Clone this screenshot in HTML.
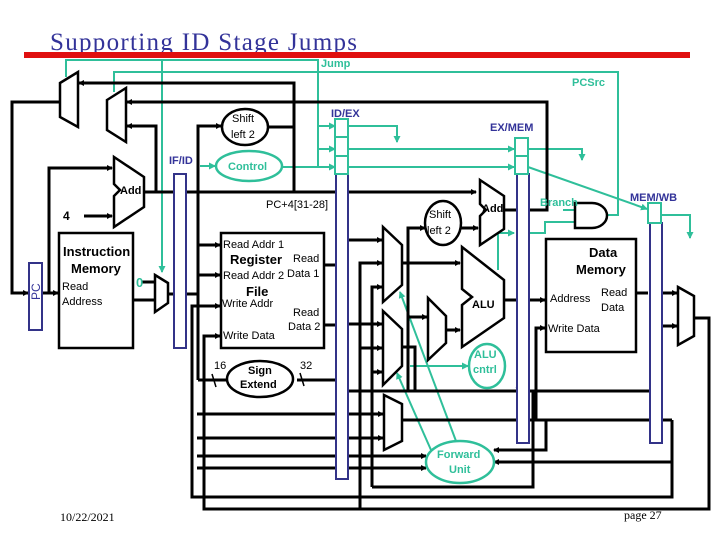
<!DOCTYPE html>
<html><head><meta charset="utf-8"><style>
html,body{margin:0;padding:0;background:#fff;}
svg{display:block;}
text{font-family:"Liberation Sans",sans-serif;}
</style></head><body>
<svg width="720" height="540" viewBox="0 0 720 540" xmlns="http://www.w3.org/2000/svg">
<defs>
<marker id="a" markerWidth="6" markerHeight="6" refX="5" refY="3" orient="auto" markerUnits="userSpaceOnUse"><path d="M0,0 L6,3 L0,6 z" fill="#000"/></marker>
<marker id="t" markerWidth="7" markerHeight="7" refX="6" refY="3.5" orient="auto" markerUnits="userSpaceOnUse"><path d="M0,0 L7,3.5 L0,7 z" fill="#2fbf9a"/></marker>
</defs>
<rect width="720" height="540" fill="#fff"/>
<text x="50" y="50" font-size="25" fill="#333399" textLength="307" style="font-family:'Liberation Serif',serif">Supporting ID Stage Jumps</text>
<rect x="24" y="52" width="666" height="6" fill="#e01010"/>

<g stroke="#2fbf9a" stroke-width="2" fill="none">
<polyline points="66,77 66,60 318,60 318,167"/>
<line x1="162" y1="60" x2="162" y2="272" marker-end="url(#t)"/>
<polyline points="114,92 114,72 618,72 618,215 607,215"/>
<line x1="318" y1="126" x2="335" y2="126" marker-end="url(#t)"/>
<line x1="318" y1="149" x2="335" y2="149" marker-end="url(#t)"/>
<line x1="282" y1="167" x2="335" y2="167" marker-end="url(#t)"/>
<line x1="200" y1="166" x2="215" y2="166" marker-end="url(#t)"/>
<polyline points="348,126 397,126 397,142" marker-end="url(#t)"/>
<line x1="348" y1="149" x2="514" y2="149" marker-end="url(#t)"/>
<line x1="348" y1="167" x2="514" y2="167" marker-end="url(#t)"/>
<polyline points="528,149 582,149 582,160" marker-end="url(#t)"/>
<line x1="528" y1="167" x2="647" y2="209" marker-end="url(#t)"/>
<polyline points="661,215 690,215 690,238" marker-end="url(#t)"/>
<polyline points="498,270 498,233 514,233" marker-end="url(#t)"/>
<polyline points="528,233 545,233 545,222 576,222"/>
<line x1="563" y1="210" x2="576" y2="210"/>
<line x1="410" y1="366" x2="468" y2="366" marker-end="url(#t)"/>
<line x1="456" y1="441" x2="400" y2="292" marker-end="url(#t)"/>
<line x1="431" y1="450" x2="397" y2="373" marker-end="url(#t)"/>
</g>

<g stroke="#000" stroke-width="3" fill="none">
<polyline points="294,192 294,83 79,83" marker-end="url(#a)"/>
<polyline points="530,210 547,210 547,102 127,102" marker-end="url(#a)"/>
<polyline points="156,192 156,126 127,126" marker-end="url(#a)"/>
<line x1="144" y1="192" x2="476" y2="192" marker-end="url(#a)"/>
<polyline points="60,102 12,102 12,293 28,293" marker-end="url(#a)"/>
<line x1="42" y1="293" x2="58" y2="293" marker-end="url(#a)"/>
<polyline points="49,293 49,168 112,168" marker-end="url(#a)"/>
<line x1="84" y1="216" x2="112" y2="216" marker-end="url(#a)"/>
<line x1="133" y1="300" x2="155" y2="300"/>
<line x1="142" y1="282" x2="155" y2="282"/>
<line x1="168" y1="294" x2="173" y2="294"/>
<line x1="186" y1="294" x2="198" y2="294"/>
<polyline points="198,380 198,126 221,126" marker-end="url(#a)"/>
<line x1="268" y1="127" x2="294" y2="127"/>
<line x1="198" y1="245" x2="220" y2="245" marker-end="url(#a)"/>
<line x1="198" y1="275" x2="220" y2="275" marker-end="url(#a)"/>
<line x1="324" y1="265" x2="336" y2="265"/>
<line x1="324" y1="325" x2="336" y2="325"/>
<line x1="348" y1="240" x2="382" y2="240" marker-end="url(#a)"/>
<line x1="348" y1="324" x2="382" y2="324" marker-end="url(#a)"/>
<polyline points="360,420 360,263 382,263" marker-end="url(#a)"/>
<polyline points="372,487 372,287 382,287" marker-end="url(#a)"/>
<line x1="360" y1="348" x2="382" y2="348" marker-end="url(#a)"/>
<line x1="372" y1="372" x2="382" y2="372" marker-end="url(#a)"/>
<line x1="402" y1="263" x2="460" y2="263" marker-end="url(#a)"/>
<polyline points="402,347 415,347 415,391"/>
<polyline points="408,390 408,228 425,228" marker-end="url(#a)"/>
<line x1="408" y1="317" x2="427" y2="317" marker-end="url(#a)"/>
<line x1="446" y1="330" x2="460" y2="330" marker-end="url(#a)"/>
<line x1="461" y1="228" x2="478" y2="228" marker-end="url(#a)"/>
<line x1="504" y1="210" x2="516" y2="210"/>
<line x1="504" y1="300" x2="516" y2="300"/>
<line x1="528" y1="300" x2="545" y2="300" marker-end="url(#a)"/>
<polyline points="536,420 536,328 545,328" marker-end="url(#a)"/>
<line x1="636" y1="293" x2="648" y2="293"/>
<line x1="661" y1="293" x2="677" y2="293" marker-end="url(#a)"/>
<line x1="661" y1="326" x2="677" y2="326" marker-end="url(#a)"/>
<polyline points="694,318 709,318 709,509 204,509 204,336 220,336" marker-end="url(#a)"/>
<line x1="360" y1="509" x2="360" y2="420"/>
<polyline points="672,420 672,497 192,497 192,306 220,306" marker-end="url(#a)"/>
<line x1="297" y1="380" x2="336" y2="380"/>
<line x1="198" y1="380" x2="228" y2="380"/>
<line x1="348" y1="391" x2="650" y2="391"/>
<line x1="402" y1="420" x2="672" y2="420"/>
<line x1="197" y1="414" x2="383" y2="414" marker-end="url(#a)"/>
<line x1="197" y1="438" x2="383" y2="438" marker-end="url(#a)"/>
<line x1="197" y1="456" x2="426" y2="456" marker-end="url(#a)"/>
<line x1="197" y1="468" x2="426" y2="468" marker-end="url(#a)"/>
<polyline points="546,420 546,450 494,450" marker-end="url(#a)"/>
<line x1="672" y1="462" x2="494" y2="462" marker-end="url(#a)"/>
<polyline points="372,487 533,487 533,391"/>
<line x1="486" y1="343" x2="486" y2="349" marker-end="url(#a)"/>
</g>

<g stroke="#3333aa" stroke-width="2.5" stroke-dasharray="2,2" fill="none">
<line x1="336" y1="265" x2="348" y2="240"/>
<line x1="336" y1="372" x2="346" y2="391"/>
<line x1="528" y1="300" x2="517" y2="388"/>
<line x1="661" y1="293" x2="651" y2="388"/>
</g>

<g fill="#fff" stroke="#333388" stroke-width="2">
<rect x="29" y="263" width="13" height="67"/>
<rect x="174" y="174" width="12" height="174"/>
<rect x="336" y="174" width="12" height="305"/>
<rect x="517" y="174" width="12" height="269"/>
<rect x="650" y="223" width="12" height="220"/>
</g>
<g fill="#fff" stroke="#2fbf9a" stroke-width="2">
<rect x="335" y="119" width="13" height="18"/><rect x="335" y="137" width="13" height="19"/><rect x="335" y="156" width="13" height="18"/>
<rect x="515" y="138" width="13" height="18"/><rect x="515" y="156" width="13" height="18"/>
<rect x="648" y="203" width="13" height="20"/>
</g>
<text x="0" y="0" transform="translate(40,300) rotate(-90)" font-size="12" fill="#333399">PC</text>

<g fill="#fff" stroke="#000" stroke-width="2.5">
<polygon points="60,83 78,72 78,127 60,117"/>
<polygon points="107,100 126,88 126,142 107,130"/>
<polygon points="114,157 144,177 144,207 114,227 114,196 120,190 114,184"/>
<polygon points="155,275 168,283 168,303 155,312"/>
<polygon points="480,180 504,196 504,229 480,245 480,216 486,210 480,204"/>
<polygon points="383,227 402,245 402,285 383,302"/>
<polygon points="383,311 402,329 402,366 383,385"/>
<polygon points="428,298 446,316 446,343 428,360"/>
<polygon points="384,395 402,404 402,441 384,450"/>
<polygon points="462,247 504,280 504,318 462,347 462,305 472,297 462,289"/>
<polygon points="678,287 694,296 694,336 678,345"/>
<rect x="59" y="233" width="74" height="115"/>
<rect x="221" y="233" width="103" height="115"/>
<rect x="546" y="239" width="90" height="113"/>
<ellipse cx="245" cy="127" rx="23" ry="18"/>
<ellipse cx="443" cy="223" rx="18" ry="22"/>
<ellipse cx="260" cy="379" rx="33" ry="18"/>
<path d="M575,203 L592,203 A15,12.5 0 0 1 592,228 L575,228 Z"/>
</g>
<g fill="#fff" stroke="#2fbf9a" stroke-width="2.5">
<ellipse cx="249" cy="166" rx="33" ry="15"/>
<ellipse cx="487" cy="366" rx="18" ry="22"/>
<ellipse cx="460" cy="462" rx="34" ry="21"/>
</g>
<g stroke="#000" stroke-width="1.5"><line x1="212" y1="374" x2="216" y2="387"/><line x1="300" y1="373" x2="304" y2="386"/></g>

<g font-size="11" font-weight="bold" fill="#2fbf9a">
<text x="321" y="67">Jump</text>
<text x="572" y="86">PCSrc</text>
<text x="228" y="170">Control</text>
<text x="540" y="206">Branch</text>
<text x="474" y="358">ALU</text>
<text x="473" y="373">cntrl</text>
<text x="437" y="458">Forward</text>
<text x="449" y="473">Unit</text>
<text x="136" y="287" font-size="13">0</text>
</g>
<g font-size="11" font-weight="bold" fill="#333399">
<text x="169" y="164">IF/ID</text>
<text x="331" y="117">ID/EX</text>
<text x="490" y="131">EX/MEM</text>
<text x="630" y="201">MEM/WB</text>
</g>
<g font-size="11" fill="#000">
<text x="232" y="122">Shift</text><text x="231" y="138">left 2</text>
<text x="429" y="218">Shift</text><text x="427" y="234">left 2</text>
<text x="120" y="194" font-weight="bold">Add</text>
<text x="482" y="212" font-weight="bold">Add</text>
<text x="472" y="308" font-weight="bold">ALU</text>
<text x="63" y="220" font-weight="bold" font-size="12">4</text>
<text x="266" y="208">PC+4[31-28]</text>
<text x="63" y="256" font-size="13" font-weight="bold">Instruction</text>
<text x="71" y="273" font-size="13" font-weight="bold">Memory</text>
<text x="62" y="290">Read</text><text x="62" y="305">Address</text>
<text x="223" y="248">Read Addr 1</text>
<text x="230" y="264" font-size="13" font-weight="bold">Register</text>
<text x="293" y="262">Read</text>
<text x="223" y="279">Read Addr 2</text><text x="287" y="277">Data 1</text>
<text x="246" y="296" font-size="13" font-weight="bold">File</text>
<text x="222" y="307">Write Addr</text>
<text x="293" y="316">Read</text><text x="288" y="330">Data 2</text>
<text x="223" y="339">Write Data</text>
<text x="214" y="369">16</text><text x="300" y="369">32</text>
<text x="248" y="374" font-weight="bold">Sign</text><text x="240" y="388" font-weight="bold">Extend</text>
<text x="589" y="257" font-size="13" font-weight="bold">Data</text>
<text x="576" y="274" font-size="13" font-weight="bold">Memory</text>
<text x="550" y="302">Address</text>
<text x="601" y="296">Read</text><text x="601" y="311">Data</text>
<text x="548" y="332">Write Data</text>
</g>
<text x="60" y="521" font-size="12" style="font-family:'Liberation Serif',serif">10/22/2021</text>
<text x="624" y="519" font-size="12" style="font-family:'Liberation Serif',serif">page 27</text>
</svg>
</body></html>
